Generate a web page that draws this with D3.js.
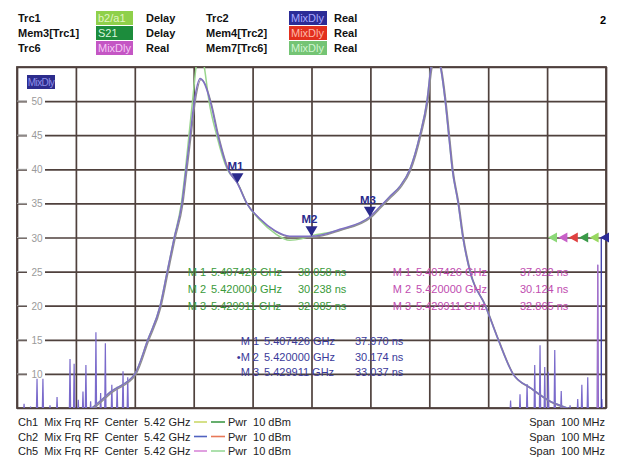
<!DOCTYPE html>
<html><head><meta charset="utf-8">
<script src="https://cdn.jsdelivr.net/npm/d3@7"></script>
<style>
body{margin:0;background:#fff;}
svg{display:block;font-family:"Liberation Sans",Arial,sans-serif;}
svg text{white-space:pre;}
</style></head><body>
<svg id="c" width="617" height="463"></svg>
<script>
// ---- data (frequency in MHz, group delay in ns) ----
const xTicks = [5370,5380,5390,5400,5410,5420,5430,5440,5450,5460,5470];
const yTickLabels = [10,15,20,25,30,35,40,45,50];
const yGrid = [5,10,15,20,25,30,35,40,45,50,55];

const mainF = [5380,5382.7,5386.1,5390.0,5392.2,5394.3,5395.5,5396.7,5398.0,5398.7,5399.4,5400.1,5401.1,5401.7,5402.8,5404.1,5405.8,5407.4,5409.0,5411.3,5413.8,5416.3,5420.0,5424.8,5429.9,5431.6,5433.3,5435.0,5436.7,5438.4,5439.6,5440.3,5441.0,5441.9,5442.7,5443.3,5443.9,5444.9,5445.7,5446.9,5449.5,5451.7,5454.2,5457.1,5460.5,5463.4,5466];
const mainV = [3.5,5.0,7.5,10,15,20,25,30,35,40,45,50,53.3,52.8,50,45,40,37.97,35,32.7,31,30.2,30.17,31.2,33.04,34.5,36,37.5,40,45,50,55,57,55,50,45,40,35,30,25,20,15,10,8,6,5,4];

const greenF = [5380,5382.7,5386.1,5390.0,5392.2,5394.3,5395.5,5396.7,5397.9,5398.6,5399.2,5399.8,5400.4,5401.0,5401.8,5402.6,5403.9,5405.7,5407.4,5409.0,5411.3,5413.8,5416.3,5418.3,5420.0,5424.8,5429.9,5431.6,5433.3,5435.0,5436.7,5438.4,5439.6,5440.3,5441.0,5441.9,5442.7,5443.3,5443.9,5444.9,5445.7,5446.9,5449.5,5451.7,5454.2,5457.1,5460.5,5463.4,5466];
const greenV = [3.5,5.0,7.5,10,15,20,25,30,35,40,45,50,55,58,55,50,45,40,38.06,35,32.5,30.6,29.6,29.8,30.24,31.1,32.99,34.4,36,37.5,40,45,50,55,57,55,50,45,40,35,30,25,20,15,10,8,6,5,4];

const noiseF = [5371.2,5372.3,5373.4,5374.4,5375.6,5376.8,5379.0,5379.7,5380.4,5381.2,5381.7,5382.5,5383.4,5384.2,5385.0,5386.1,5387.0,5388.0,5388.8,
                5453.8,5455.4,5456.6,5457.9,5458.8,5459.6,5460.2,5461.3,5462.4,5463.9,5465.2,5465.9,5466.9,5468.6,5469.3];
const noiseV = [5.6,5.2,9.3,9.3,5.4,6.6,12.2,11.5,6.2,7.4,11.3,6.0,16.1,7.2,14.5,8.4,8.1,10.4,9.5,
                6.1,7.0,8.5,11.3,14.2,11,10.3,13.5,7.5,5.4,6.3,8.4,9.5,26,6.3];

const markerNames = ["M1","M2","M3"];
const markerF = [5407.426,5420.000,5429.911];
const markerV = [37.970,30.174,33.037];

const greenList = ["38.058","30.238","32.985"];
const magList = ["37.922","30.124","32.865"];
const blueList = ["37.970","30.174","33.037"];
const markerFreqText = ["5.407426","5.420000","5.429911"];

const legendRows = [
  ["Trc1","b2/a1","Delay","Trc2","MixDly","Real"],
  ["Mem3[Trc1]","S21","Delay","Mem4[Trc2]","MixDly","Real"],
  ["Trc6","MixDly","Real","Mem7[Trc6]","MixDly","Real"]
];
const legendBox1 = ["#8fd04a","#1c8c3c","#c456c4"];
const legendTxt1 = ["#e2f5c4","#d8f5dc","#f5c8f5"];
const legendBox2 = ["#2c2c96","#e2301e","#74c474"];
const legendTxt2 = ["#a8a8ff","#ffb8a8","#d0f5d0"];

const chRows = ["Ch1","Ch2","Ch5"];
const chDash1 = ["#cbd86a","#5062c0","#d888d8"];
const chDash2 = ["#3f9a48","#e87858","#98d898"];
const refColors = ["#8cd878","#c860c8","#e04040","#3a9a48","#98d860","#2c2c96"];

// ---- drawing ----
const svg = d3.select("#c");
const L=17,R=606,T=67,B=408;
const x = d3.scaleLinear().domain([5370,5470]).range([L,R]);
const y = d3.scaleLinear().domain([5,55]).range([B,T]);
const gridCol = "#4f413d";

svg.append("rect").attr("x",L).attr("y",T).attr("width",R-L).attr("height",B-T).attr("fill","#fff");

// grid via axes
const gx = svg.append("g").attr("transform",`translate(0,${B})`)
  .call(d3.axisBottom(x).tickValues(xTicks).tickSize(-(B-T)).tickFormat(""));
const gy = svg.append("g").attr("transform",`translate(${L},0)`)
  .call(d3.axisLeft(y).tickValues(yGrid).tickSize(-(R-L)).tickFormat(""));
[gx,gy].forEach(g=>{g.select(".domain").remove();
  g.selectAll("line").attr("stroke",gridCol).attr("stroke-width",1.7);});
svg.append("rect").attr("x",L).attr("y",T).attr("width",R-L).attr("height",B-T)
  .attr("fill","none").attr("stroke",gridCol).attr("stroke-width",1.8);

// y tick labels
const yl = svg.append("g");
yTickLabels.forEach(v=>{
  yl.append("rect").attr("x",27).attr("y",y(v)-5).attr("width",18).attr("height",10).attr("fill","#fff");
  yl.append("line").attr("x1",L).attr("x2",27).attr("y1",y(v)).attr("y2",y(v)).attr("stroke","#aaa").attr("stroke-width",1);
  yl.append("text").attr("x",37).attr("y",y(v)+4).attr("text-anchor","middle")
    .attr("font-size",10).attr("fill","#9a9a9a").text(v);
});

// MixDly box
svg.append("rect").attr("x",27).attr("y",75).attr("width",28).attr("height",14).attr("fill","#2c2c8c");
svg.append("text").attr("x",41).attr("y",86).attr("text-anchor","middle").attr("font-size",10)
  .attr("fill","#8f8fe8").attr("letter-spacing",-0.6).text("MixDly");

// clip
svg.append("clipPath").attr("id","clip").append("rect").attr("x",L).attr("y",T).attr("width",R-L).attr("height",B-T);
const plot = svg.append("g").attr("clip-path","url(#clip)");

const line = d3.line().x(d=>x(d[0])).y(d=>y(d[1])).curve(d3.curveMonotoneX);

// noise spikes
const noisePts=[];
noiseF.forEach((f,i)=>{noisePts.push([f-0.12,4]);noisePts.push([f,noiseV[i]]);noisePts.push([f+0.12,4]);});
plot.append("path").datum(noisePts).attr("d",d3.line().x(d=>x(d[0])).y(d=>y(d[1])))
  .attr("fill","none").attr("stroke","#7a6acb").attr("stroke-width",1.2);
// reference vertical lines
plot.append("line").attr("x1",x(5469.2)).attr("x2",x(5469.2)).attr("y1",y(30)).attr("y2",B).attr("stroke","#3a3aa8").attr("stroke-width",1.3);
plot.append("line").attr("x1",x(5468.6)).attr("x2",x(5468.6)).attr("y1",y(26)).attr("y2",B).attr("stroke","#b070c8").attr("stroke-width",1.1);

plot.append("path").datum(greenF.map((f,i)=>[f,greenV[i]])).attr("d",line)
  .attr("fill","none").attr("stroke","#9ad68e").attr("stroke-width",1.5);
plot.append("path").datum(mainF.map((f,i)=>[f+0.15,mainV[i]-0.15])).attr("d",line)
  .attr("fill","none").attr("stroke","#8e8e8e").attr("stroke-width",1.3);
plot.append("path").datum(mainF.map((f,i)=>[f,mainV[i]])).attr("d",line)
  .attr("fill","none").attr("stroke","#7f6fc4").attr("stroke-width",1.5);

// reference arrows at right
refColors.forEach((c,i)=>{
  const xr = 548 + i*10.4;
  svg.append("path").attr("d",`M${xr},${y(30)} l9,-5 l0,10 z`).attr("fill",c);
});

// markers
markerF.forEach((f,i)=>{
  const px=x(f), py=y(markerV[i]);
  svg.append("path").attr("d",`M${px},${py} l-6,-10 l12,0 z`).attr("fill","#2a2a8c");
  svg.append("text").attr("x",px-2).attr("y",py-13).attr("text-anchor","middle")
    .attr("font-size",11.5).attr("font-weight","bold").attr("fill","#2a2a8c").text(markerNames[i]);
});

// marker lists
function list(x0,xv,y0,dy,vals,col,bullet){
  vals.forEach((v,i)=>{
    const g=svg.append("g").attr("fill",col).attr("font-size",11);
    g.append("text").attr("x",x0).attr("y",y0+i*dy).attr("text-anchor","end")
      .text((bullet&&i===1?"•":"")+"M "+(i+1));
    g.append("text").attr("x",x0+5).attr("y",y0+i*dy).text(markerFreqText[i]+" GHz");
    g.append("text").attr("x",xv).attr("y",y0+i*dy).text(v+" ns");
  });
}
list(206,298,276,17,greenList,"#3a9a3a",false);
list(411,520,276,17,magList,"#c04cb0",false);
list(259,355,345,15.5,blueList,"#3a3a9a",true);

// legend
legendRows.forEach((r,i)=>{
  const yy = 22+i*15;
  const g=svg.append("g").attr("font-size",11).attr("font-weight","bold").attr("fill","#111");
  g.append("text").attr("x",18).attr("y",yy).text(r[0]);
  svg.append("rect").attr("x",96).attr("y",yy-11).attr("width",37).attr("height",14).attr("fill",legendBox1[i]);
  svg.append("text").attr("x",98).attr("y",yy).attr("font-size",11).attr("fill",legendTxt1[i]).text(r[1]);
  g.append("text").attr("x",146).attr("y",yy).text(r[2]);
  g.append("text").attr("x",206).attr("y",yy).text(r[3]);
  svg.append("rect").attr("x",289).attr("y",yy-11).attr("width",38).attr("height",14).attr("fill",legendBox2[i]);
  svg.append("text").attr("x",291).attr("y",yy).attr("font-size",11).attr("fill",legendTxt2[i]).text(r[4]);
  g.append("text").attr("x",334).attr("y",yy).text(r[5]);
});
svg.append("text").attr("x",606).attr("y",24).attr("text-anchor","end").attr("font-size",11).attr("font-weight","bold").text("2");

// bottom channel info
chRows.forEach((c,i)=>{
  const yy=426+i*14.5;
  const g=svg.append("g").attr("font-size",11).attr("fill","#222");
  g.append("text").attr("x",18).attr("y",yy).text(c+"  Mix Frq RF  Center  5.42 GHz");
  svg.append("line").attr("x1",194).attr("x2",207).attr("y1",yy-4).attr("y2",yy-4).attr("stroke",chDash1[i]).attr("stroke-width",1.6);
  svg.append("line").attr("x1",211).attr("x2",225).attr("y1",yy-4).attr("y2",yy-4).attr("stroke",chDash2[i]).attr("stroke-width",1.6);
  g.append("text").attr("x",228).attr("y",yy).text("Pwr  10 dBm");
  g.append("text").attr("x",605).attr("y",yy).attr("text-anchor","end").text("Span  100 MHz");
});
</script></body></html>
